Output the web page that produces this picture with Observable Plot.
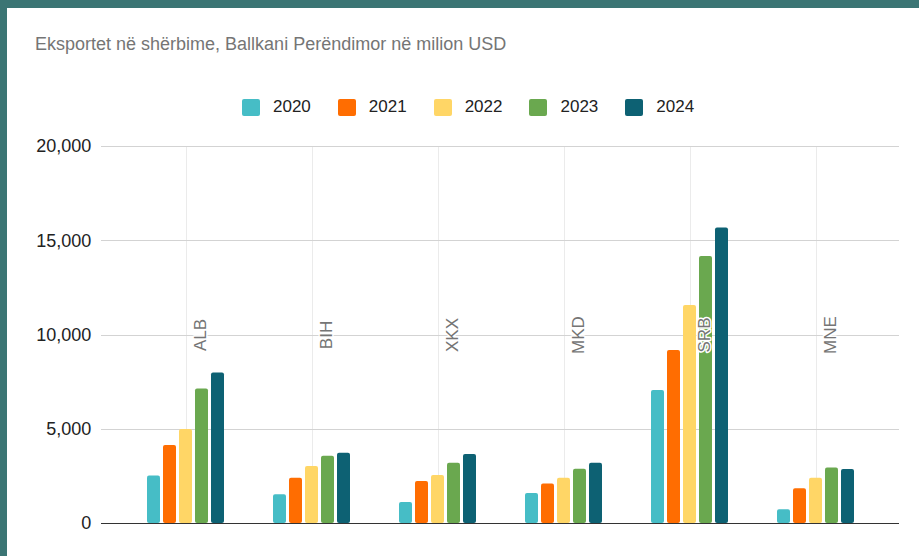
<!DOCTYPE html>
<html>
<head>
<meta charset="utf-8">
<script src="https://cdn.jsdelivr.net/npm/d3@7"></script>
<script src="https://cdn.jsdelivr.net/npm/@observablehq/plot@0.6"></script>
<style>
html, body { margin: 0; padding: 0; width: 919px; height: 556px; overflow: hidden; background: #3b7574; font-family: "Liberation Sans", Arial, sans-serif; }
#panel { position: absolute; left: 7px; top: 8px; right: 0; bottom: 0; background: #fff; }
#title { position: absolute; left: 35px; top: 34px; font-size: 18px; color: #757575; white-space: nowrap; }
#legend { position: absolute; left: 242px; top: 97px; }
#legend .lg-swatches { font-family: "Liberation Sans", Arial, sans-serif; font-size: 17px; color: #222; min-height: 0; margin: 0; }
#legend .lg-swatch { margin-right: 27px; }
#legend .lg-swatch > svg { margin-right: 13px; }
#legend svg rect { rx: 2px; }
#chart { position: absolute; left: 0; top: 130px; }
</style>
</head>
<body>
<div id="panel"></div>
<div id="title">Eksportet në shërbime, Ballkani Perëndimor në milion USD</div>
<div id="legend"></div>
<div id="chart"></div>
<script>
const countries = ["ALB", "BIH", "XKX", "MKD", "SRB", "MNE"];
const years = ["2020", "2021", "2022", "2023", "2024"];
const v2020 = [2520, 1520, 1110, 1590, 7060, 730];
const v2021 = [4140, 2400, 2230, 2090, 9180, 1840];
const v2022 = [4990, 3020, 2550, 2400, 11570, 2400];
const v2023 = [7140, 3570, 3200, 2880, 14160, 2950];
const v2024 = [7990, 3730, 3660, 3200, 15670, 2860];
const colors = ["#46bdc6", "#ff6d01", "#ffd666", "#6aa84f", "#0d6173"];
const yTicks = [0, 5000, 10000, 15000, 20000];

const series = [v2020, v2021, v2022, v2023, v2024];
const data = [];
countries.forEach((c, i) => years.forEach((y, j) => data.push({country: c, year: y, value: series[j][i]})));

const W = 919, mL = 100, mR = 19, fxPad = 0.334;
// gap between facets (and to the frame edges) so grid lines span the whole frame
const fxStep = (W - mL - mR) / (countries.length - fxPad + 2 * fxPad);
const gap = fxPad * fxStep;

const plot = Plot.plot({
  width: W,
  height: 426,
  marginTop: 16,
  marginBottom: 33,
  marginLeft: mL,
  marginRight: mR,
  style: {fontFamily: '"Liberation Sans", Arial, sans-serif', background: "transparent"},
  fx: {domain: countries, paddingInner: fxPad, paddingOuter: fxPad, axis: null, label: null},
  x: {domain: years, paddingInner: 0.2, paddingOuter: 0.1, axis: null},
  y: {domain: [0, 20000], axis: null},
  color: {domain: years, range: colors},
  marks: [
    Plot.ruleX(countries, {fx: d => d, x: () => years[2], stroke: "#ebebeb", shapeRendering: "crispEdges"}),
    Plot.ruleY(yTicks.filter(d => d > 0), {stroke: "#d3d3d3", strokeWidth: 1, insetLeft: -gap, insetRight: -gap, shapeRendering: "crispEdges"}),
    Plot.barY(data, {fx: "country", x: "year", y: "value", fill: "year", rx: 2}),
    Plot.ruleY([0], {stroke: "#333", strokeWidth: 1.2, insetLeft: -gap, insetRight: -gap, shapeRendering: "crispEdges"}),
    Plot.axisY(yTicks, {anchor: "left", tickSize: 0, tickPadding: gap + 10, tickFormat: d3.format(","), fontSize: 18, color: "#222", label: null}),
    Plot.text(countries, {fx: d => d, y: () => 10000, text: d => d, rotate: -90, dx: 15, fontSize: 17, fill: "#757575", stroke: "white", strokeWidth: 3})
  ]
});
document.getElementById("chart").appendChild(plot);
const leg = plot.legend("color", {swatchWidth: 18, swatchHeight: 17, className: "lg"});
document.getElementById("legend").appendChild(leg);
</script>
</body>
</html>
